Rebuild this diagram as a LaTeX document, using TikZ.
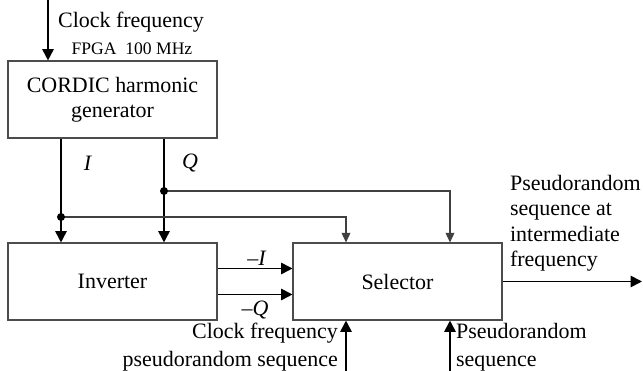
\documentclass[tikz,border=0pt]{standalone}
\usepackage{fontspec}
\setmainfont{Liberation Serif}
\usetikzlibrary{arrows.meta}
\usetikzlibrary{positioning}

\tikzset{
  block/.style={draw=black!70, line width=0.6pt, minimum width=4.18cm, minimum height=1.54cm,
    align=center, font=\fontsize{12.5}{14.5}\selectfont},
  sig/.style={black, line width=1pt, -{Triangle[length=6.5pt,width=6.5pt]}},
  tap/.style={black!75, line width=0.6pt, -{Triangle[length=5.5pt,width=5pt]}},
  lbl/.style={font=\fontsize{12.5}{14.5}\selectfont, inner sep=1pt},
}

\begin{document}
\begin{tikzpicture}
\useasboundingbox (0,0) rectangle (12.86,7.42);

% blocks
\node[block] (cordic) at (2.25,5.43) {CORDIC harmonic\\generator};
\node[block] (inv) at (2.25,1.79) {Inverter};
\node[block] (sel) at (7.95,1.79) {Selector};

\coordinate (clk) at (0.96,7.42);
\coordinate (Idot) at (1.22,3.08);
\coordinate (Qdot) at (3.28,3.60);
\coordinate (out) at (12.84,1.79);
\coordinate (prs) at (6.92,0);
\coordinate (prn) at (9.00,0);

% signals
\draw[sig] (clk) -- (clk |- cordic.north);
\draw[sig] (cordic.south -| Idot) -- (inv.north -| Idot);
\draw[sig] (cordic.south -| Qdot) -- (inv.north -| Qdot);
\draw[tap] (Idot) -| (sel.north -| prs);
\draw[tap] (Qdot) -| (sel.north -| prn);
\fill (Idot) circle (0.08);
\fill (Qdot) circle (0.08);
\draw[sig] ([yshift=0.26cm]inv.east) -- ([yshift=0.26cm]sel.west);
\draw[sig] ([yshift=-0.26cm]inv.east) -- ([yshift=-0.26cm]sel.west);
\draw[sig] (sel.east) -- (out);
\draw[sig] (prs) -- (prs |- sel.south);
\draw[sig] (prn) -- (prn |- sel.south);

% labels
\node[lbl, anchor=west] (clktxt) at (1.12,6.98) {Clock frequency};
\node[lbl, font=\fontsize{10}{12}\selectfont] (fpga) at (2.64,6.44) {FPGA~~100~MHz};
\node[lbl] (ilbl) at (1.76,4.16) {\textit{I}};
\node[lbl] (qlbl) at (3.80,4.16) {\textit{Q}};
\node[lbl] (nilbl) at (5.14,2.26) {–\textit{I}};
\node[lbl] (nqlbl) at (5.10,1.22) {–\textit{Q}};
\node[lbl, anchor=north west, align=left] (outtxt) at (10.16,3.96)
  {Pseudorandom\\sequence at\\intermediate\\frequency};
\node[lbl, anchor=east, align=right, font=\fontsize{12.5}{15.8}\selectfont] (clkprs) at (6.80,0.48)
  {Clock frequency\\pseudorandom sequence};
\node[lbl, anchor=west, align=left, font=\fontsize{12.5}{15.8}\selectfont] (prntxt) at (9.08,0.48)
  {Pseudorandom\\sequence};

\end{tikzpicture}
\end{document}
